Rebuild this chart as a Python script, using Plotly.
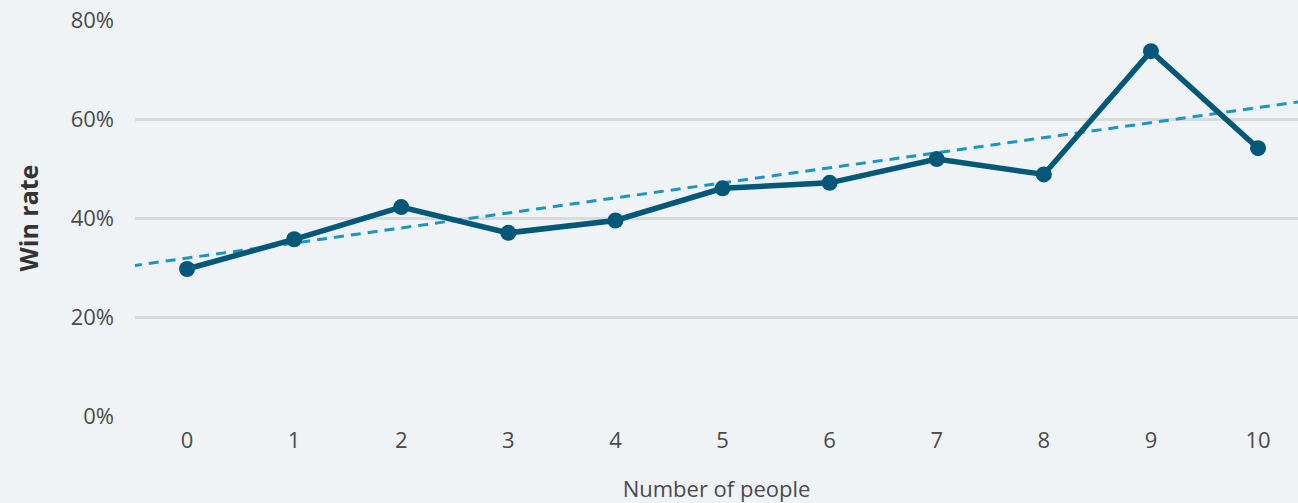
import plotly.graph_objects as go

people = [0, 1, 2, 3, 4, 5, 6, 7, 8, 9, 10]
win_rate = [29.7, 35.7, 42.2, 37.0, 39.5, 46.0, 47.1, 51.9, 48.8, 73.7, 54.1]
y_ticks = [0, 20, 40, 60, 80]
y_tick_labels = ["0%", "20%", "40%", "60%", "80%"]
# trend line: value at 0 people and rise per person
trend_at_zero = 31.9
trend_per_person = 3.04

x_range = [-0.486, 10.373]
trend_x = [x_range[0] - 0.5, x_range[1] + 0.5]
trend_y = [trend_at_zero + trend_per_person * x for x in trend_x]

bg = "#eff3f6"
fig = go.Figure()
fig.add_trace(go.Scatter(x=trend_x, y=trend_y, mode="lines",
                         line=dict(color="#1b95c4", width=3, dash="10px,7px"),
                         hoverinfo="skip", showlegend=False))
fig.add_trace(go.Scatter(x=people, y=win_rate, mode="lines+markers",
                         line=dict(color="#03587a", width=5.5),
                         marker=dict(size=16, color="#03587a"),
                         showlegend=False))
fig.update_layout(
    width=1298, height=503,
    paper_bgcolor=bg, plot_bgcolor=bg,
    margin=dict(l=135, r=0, t=20, b=87),
    font=dict(family="Open Sans", size=22, color="#4a4a4a"),
)
fig.update_xaxes(range=x_range, tickvals=people, ticktext=[str(p) for p in people],
                 showgrid=False, zeroline=False, showline=False, ticks="",
                 ticklabelstandoff=9,
                 title=dict(text="Number of people", standoff=29, font=dict(size=22)),
                 tickfont=dict(size=22))
fig.update_yaxes(range=[0, 80], tickvals=y_ticks, ticktext=y_tick_labels,
                 showgrid=True, gridcolor="#d9dadb", gridwidth=2.5, zeroline=False,
                 showline=False, ticks="", ticklabelstandoff=20,
                 title=dict(text="<b>Win rate</b>", standoff=24, font=dict(size=25, color="#333333")),
                 tickfont=dict(size=22))
fig.write_html("out.html", config={"displayModeBar": False},
               post_script="document.body.style.margin='0';document.body.style.background='#eff3f6';")
